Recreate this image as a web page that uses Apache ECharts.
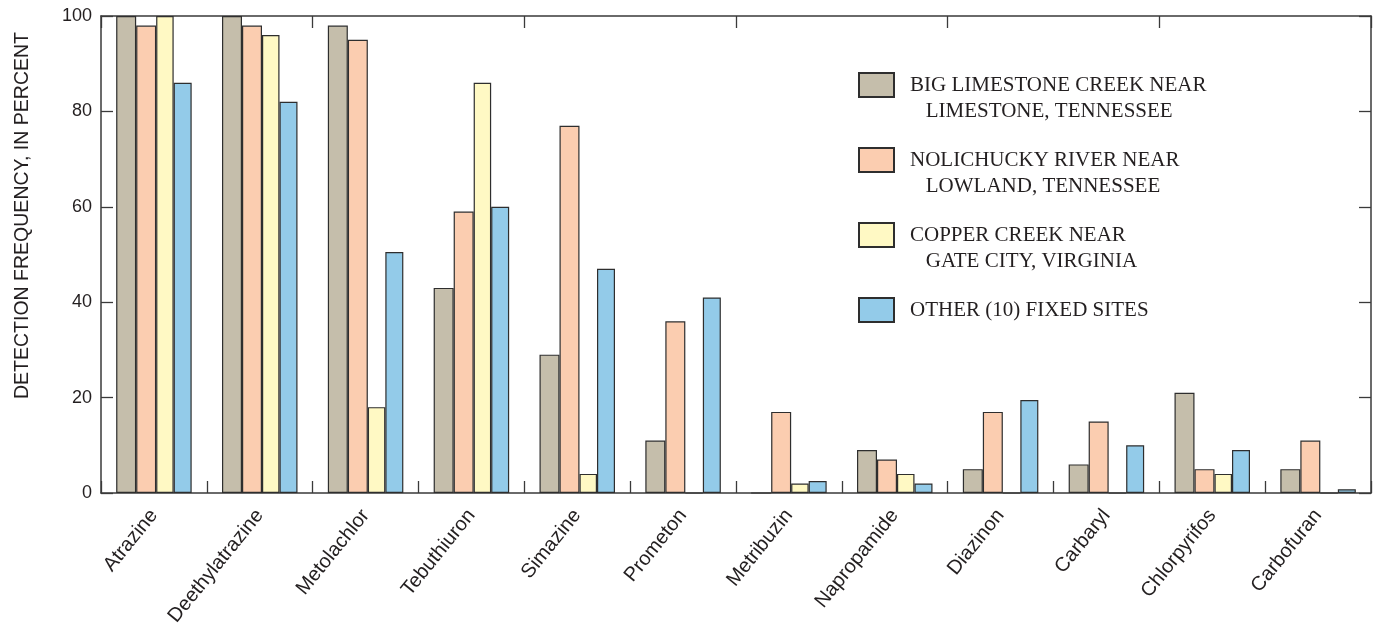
<!DOCTYPE html>
<html>
<head>
<meta charset="utf-8">
<script src="https://cdn.jsdelivr.net/npm/echarts@6/dist/echarts.min.js"></script>
<style>
  html, body { margin: 0; padding: 0; background: #ffffff; }
  #chart { width: 1377px; height: 633px; }
</style>
</head>
<body>
<div id="chart"></div>
<script>
// Compounds along the horizontal axis
const compounds = ['Atrazine', 'Deethylatrazine', 'Metolachlor', 'Tebuthiuron', 'Simazine', 'Prometon',
  'Metribuzin', 'Napropamide', 'Diazinon', 'Carbaryl', 'Chlorpyrifos', 'Carbofuran'];

// Detection frequency, in percent, per site
const bigLimestone = [100, 100, 98, 43, 29, 11, 0, 9, 5, 6, 21, 5];
const nolichucky   = [98, 98, 95, 59, 77, 36, 17, 7, 17, 15, 5, 11];
const copperCreek  = [100, 96, 18, 86, 4, 0, 2, 4, 0, 0, 4, 0];
const otherSites   = [86, 82, 50.5, 60, 47, 41, 2.5, 2, 19.5, 10, 9, 0.8];

// Site names and their legend text (second line indented)
const siteNames = ['BIG LIMESTONE CREEK', 'NOLICHUCKY RIVER', 'COPPER CREEK', 'OTHER (10) FIXED SITES'];
const siteLegendText = [
  ['BIG LIMESTONE CREEK NEAR', '\u00a0\u00a0\u00a0LIMESTONE, TENNESSEE'],
  ['NOLICHUCKY RIVER NEAR', '\u00a0\u00a0\u00a0LOWLAND, TENNESSEE'],
  ['COPPER CREEK NEAR', '\u00a0\u00a0\u00a0GATE CITY, VIRGINIA'],
  ['OTHER (10) FIXED SITES']
];
const siteValues = [bigLimestone, nolichucky, copperCreek, otherSites];
const siteColors = ['#C5BEAB', '#FBCDB0', '#FFF9C4', '#93CBE9'];
const barWidths = [20, 20, 17.5, 18];

const yAxisTitle = 'DETECTION FREQUENCY, IN PERCENT';
const yMin = 0, yMax = 100, yStep = 20;

const ink = '#231f20';
const frame = '#3a3a3a';
const sans = '"Liberation Sans", Arial, Helvetica, sans-serif';
const serif = '"Liberation Serif", "Times New Roman", serif';

// Frame lines stay on the grid edges (no snapping to zero)
const frameLine = () => ({ show: true, onZero: false, lineStyle: { color: frame, width: 1.5 } });
const innerTick = () => ({ show: true, inside: true, length: 12, lineStyle: { color: frame, width: 1.3 } });

// Legend entry: a blank line above keeps the first text line level with the swatch;
// a single-line entry gets a blank line on both sides so all entries are equally tall.
const blank = '\u00a0';
function legendLabel(name) {
  const lines = siteLegendText[siteNames.indexOf(name)];
  return lines.length > 1 ? [blank].concat(lines).join('\n') : [blank, lines[0], blank].join('\n');
}

const chart = echarts.init(document.getElementById('chart'), null, { renderer: 'canvas' });

chart.setOption({
  animation: false,
  backgroundColor: '#ffffff',
  grid: { left: 101, right: 6, top: 16, bottom: 140, containLabel: false },
  legend: {
    orient: 'vertical',
    left: 858,
    top: 46,
    padding: 0,
    itemWidth: 35,
    itemHeight: 24,
    itemGap: -3,
    icon: 'rect',
    selectedMode: false,
    data: siteNames,
    formatter: legendLabel,
    textStyle: { fontFamily: serif, fontSize: 21, lineHeight: 26, color: ink, padding: [0, 0, 0, 11] }
  },
  xAxis: [
    {
      type: 'category',
      data: compounds,
      position: 'bottom',
      axisLine: frameLine(),
      axisTick: innerTick(),
      axisLabel: { interval: 0, rotate: 51, margin: 19, fontFamily: sans, fontSize: 20, color: ink },
      splitLine: { show: false }
    },
    {
      type: 'category',
      data: compounds,
      position: 'top',
      axisLine: frameLine(),
      axisTick: innerTick(),
      axisLabel: { show: false },
      splitLine: { show: false }
    }
  ],
  yAxis: [
    {
      type: 'value',
      min: yMin, max: yMax, interval: yStep,
      position: 'left',
      name: yAxisTitle,
      nameLocation: 'middle',
      nameGap: 68,
      nameTextStyle: { fontFamily: sans, fontSize: 19.5, color: ink, padding: [0, 0, 0, 78] },
      axisLine: frameLine(),
      axisTick: innerTick(),
      axisLabel: { margin: 9, fontFamily: sans, fontSize: 18, color: ink },
      splitLine: { show: false }
    },
    {
      type: 'value',
      min: yMin, max: yMax, interval: yStep,
      position: 'right',
      axisLine: frameLine(),
      axisTick: innerTick(),
      axisLabel: { show: false },
      splitLine: { show: false }
    }
  ],
  series: siteNames.map((name, i) => ({
    name,
    type: 'bar',
    xAxisIndex: 0,
    yAxisIndex: 0,
    data: siteValues[i],
    barWidth: barWidths[i],
    barGap: '0%',
    itemStyle: { color: siteColors[i], borderColor: '#2e2e2e', borderWidth: 1.2 },
    emphasis: { disabled: true }
  }))
});
</script>
</body>
</html>
